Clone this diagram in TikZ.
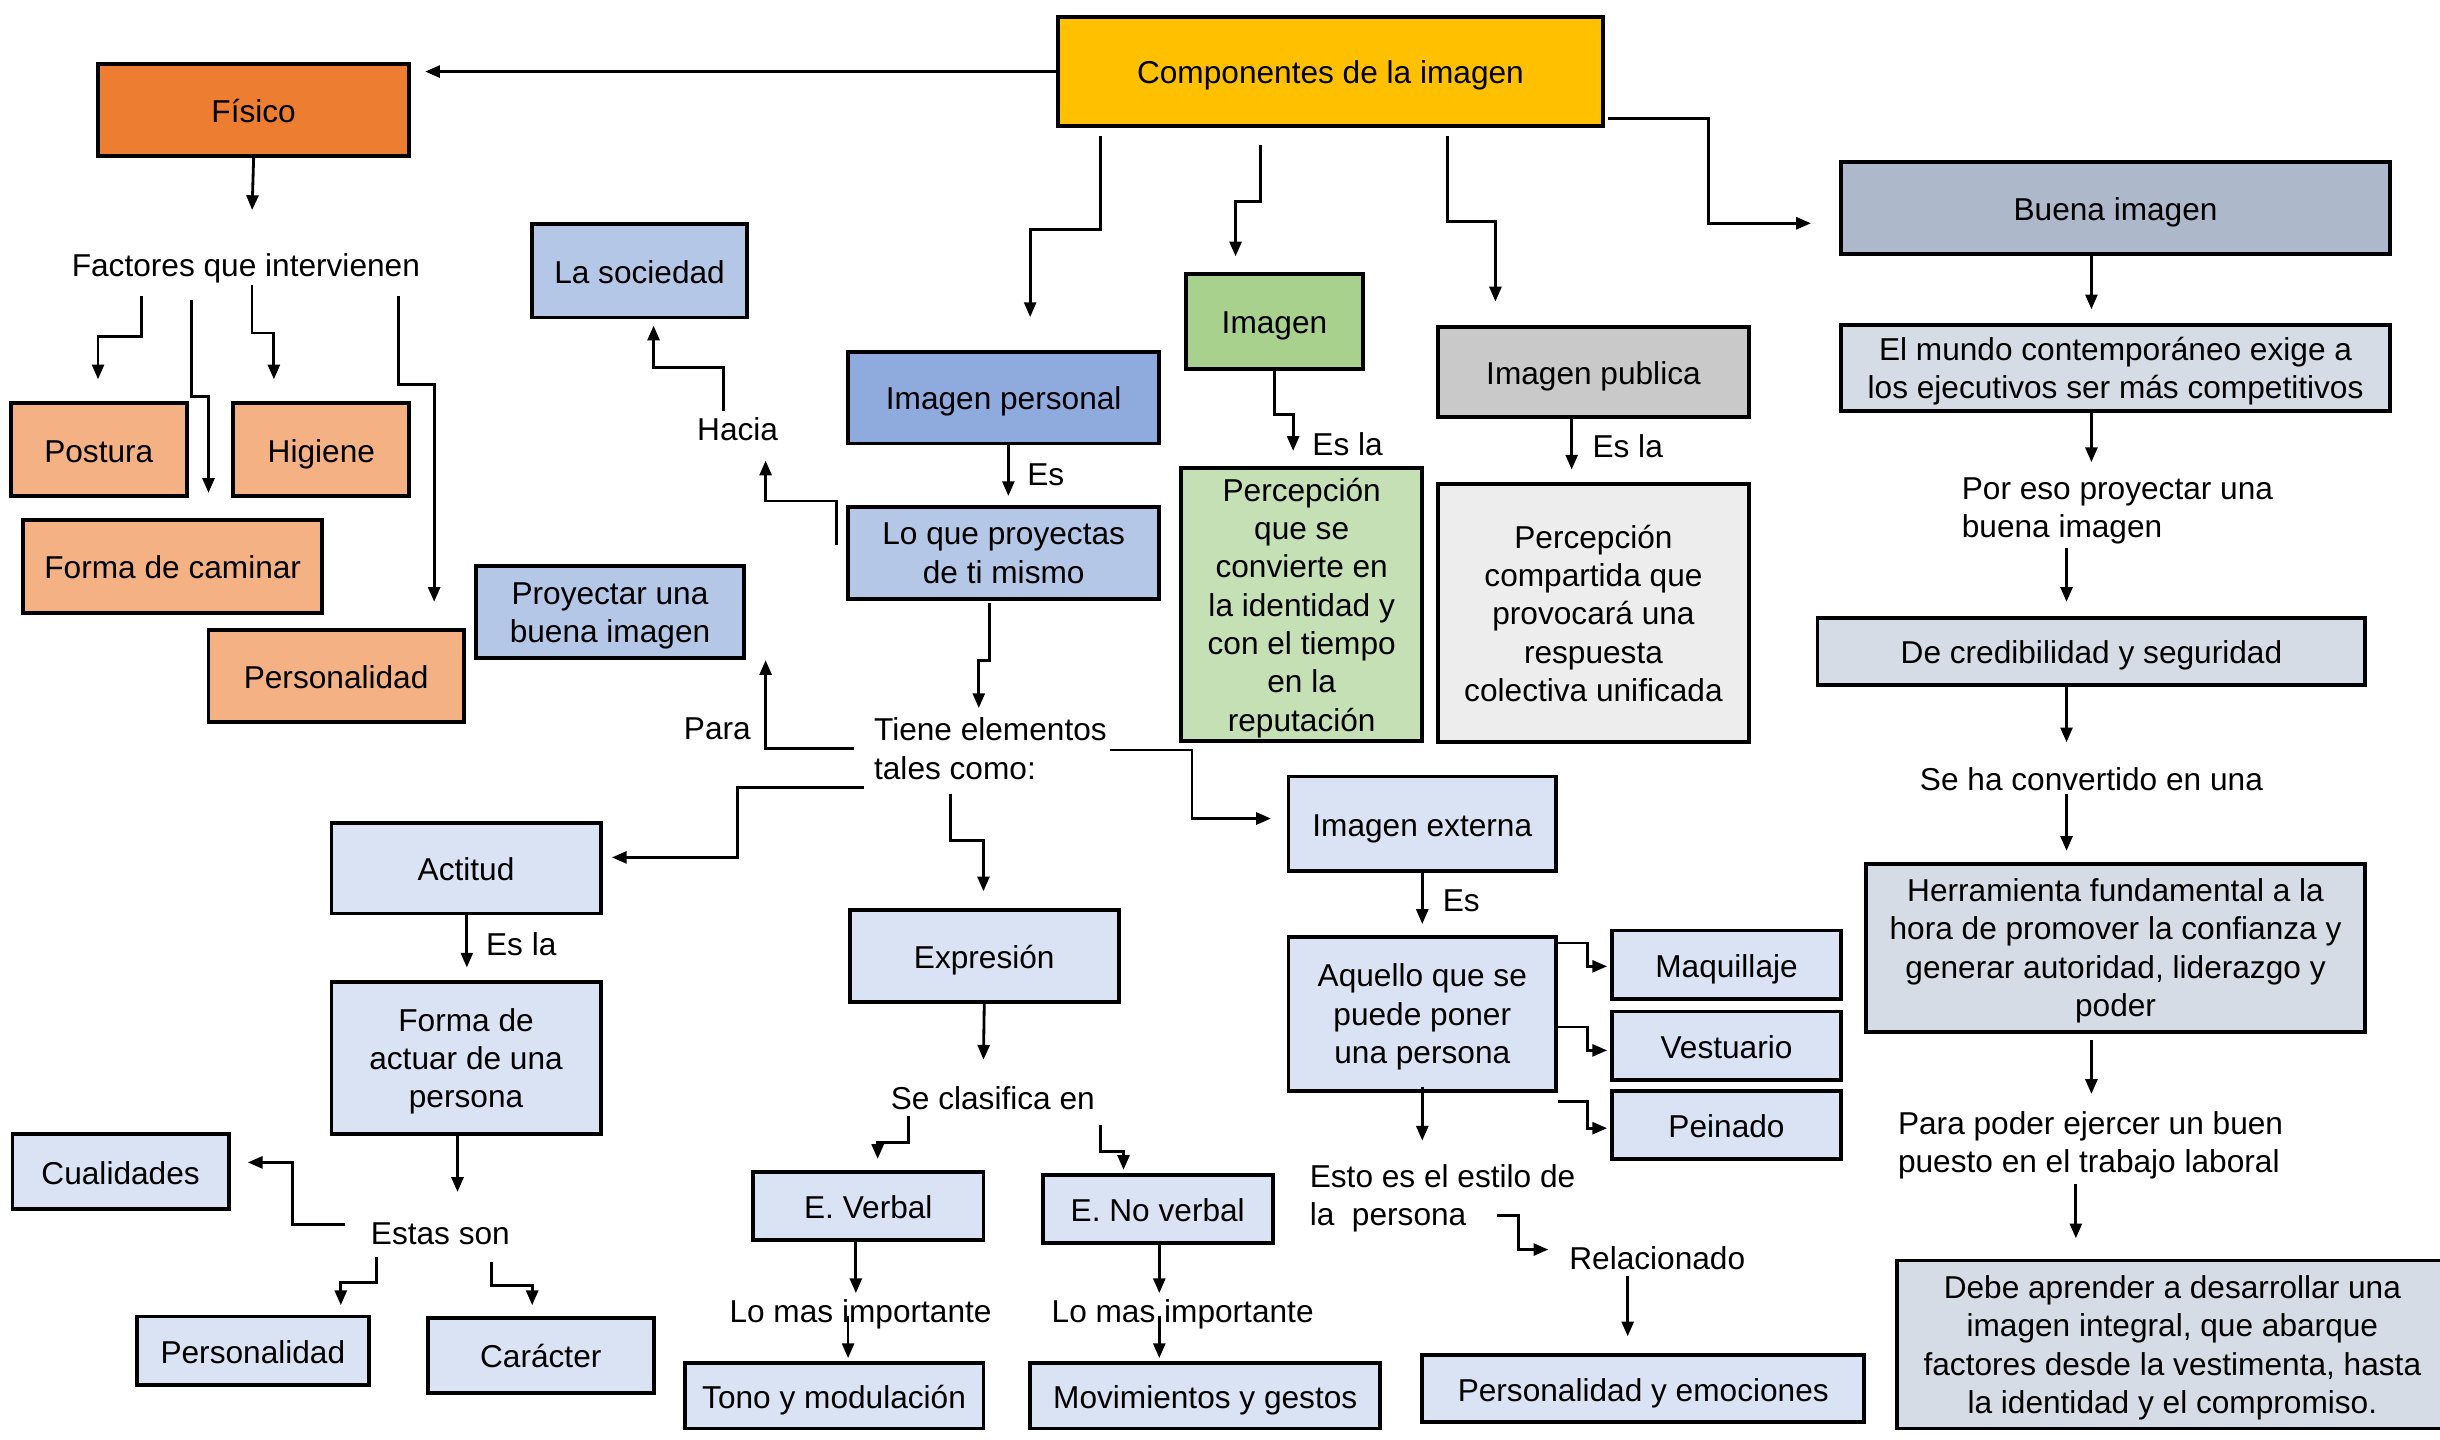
\documentclass[tikz,border=0pt]{standalone}
\usepackage{fontspec}
\setmainfont{Liberation Sans}
\usetikzlibrary{arrows.meta,calc}

\definecolor{cgold}{HTML}{FFC000}
\definecolor{corange}{HTML}{ED7D31}
\definecolor{clorange}{HTML}{F4B183}
\definecolor{cblue}{HTML}{8FAADC}
\definecolor{cmblue}{HTML}{B4C7E7}
\definecolor{clblue}{HTML}{DAE3F3}
\definecolor{cgreen}{HTML}{A9D18E}
\definecolor{clgreen}{HTML}{C5E0B4}
\definecolor{cgray}{HTML}{C9C9C9}
\definecolor{clgray}{HTML}{EDEDED}
\definecolor{cslate}{HTML}{ADB9CA}
\definecolor{clslate}{HTML}{D6DCE5}

\tikzset{
  box/.style={draw, line width=1.1pt, align=center, inner sep=2pt,
    execute at begin node={\rule[-2pt]{0pt}{11pt}}},
  wh/.style 2 args={minimum width=#1*0.15561mm, minimum height=#2*0.15561mm},
  lbl/.style={align=center, inner sep=1pt,
    execute at begin node={\rule[-2pt]{0pt}{11pt}}},
  ml/.style={text depth=-0.8pt},
  arr/.style={-{Triangle[length=4.2pt,width=3.4pt]}, line width=0.8pt},
}

\begin{document}
\begin{tikzpicture}[x=0.15561mm, y=-0.15561mm, font=\fontsize{9}{10.9}\selectfont]
        \useasboundingbox (0,0) rectangle (1568,925);

        % Nodes
        \node (comp) [box, fill=cgold, wh={350}{70}] at (855,46) {Componentes de la imagen};
        \node (fisico) [box, fill=corange, wh={200}{59}] at (163,70.5) {Físico};
        \node (factores) [lbl] at (158,170) {Factores que intervienen};
        \node (postura) [box, fill=clorange, wh={113}{60}] at (63.5,289) {Postura};
        \node (higiene) [box, fill=clorange, wh={113}{60}] at (206.5,289) {Higiene};
        \node (caminar) [box, fill=clorange, wh={192}{60}] at (111,364) {Forma de caminar};
        \node (persA) [box, fill=clorange, wh={164}{59}] at (216,434.5) {Personalidad};
        \node (sociedad) [box, fill=cmblue, wh={138}{60}] at (411,174) {La sociedad};
        \node (hacia) [lbl] at (474,275) {Hacia};
        \node (ipersonal) [box, fill=cblue, wh={200}{59}] at (645,255.5) {Imagen personal};
        \node (es1) [lbl] at (672,304) {Es};
        \node (proyectas) [box, ml, fill=cmblue, wh={200}{59}] at (645,355.5) {Lo que proyectas\\de ti mismo};
        \node (proyectar) [box, ml, fill=cmblue, wh={172}{59}] at (392,393.5) {Proyectar una\\buena imagen};
        \node (para) [lbl] at (461,467) {Para};
        \node (tiene) [lbl, ml, anchor=west, align=left] at (559,481) {Tiene elementos\\tales como:};
        \node (imagen) [box, fill=cgreen, wh={114}{61}] at (819,206.5) {Imagen};
        \node (esla1) [lbl] at (866,285) {Es la};
        \node (percep) [box, ml, fill=clgreen, wh={155}{175}] at (836.5,388.5) {Percepción\\que se\\convierte en\\la identidad y\\con el tiempo\\en la\\reputación};
        \node (ipublica) [box, fill=cgray, wh={200}{58}] at (1024,239) {Imagen publica};
        \node (esla2) [lbl] at (1046,286) {Es la};
        \node (percepc) [box, ml, fill=clgray, wh={200}{166}] at (1024,394) {Percepción\\compartida que\\provocará una\\respuesta\\colectiva unificada};
        \node (buena) [box, fill=cslate, wh={353}{59}] at (1359.5,133.5) {Buena imagen};
        \node (mundo) [box, ml, fill=clslate, wh={353}{55}] at (1359.5,236.5) {El mundo contemporáneo exige a\\los ejecutivos ser más competitivos};
        \node (poreso) [lbl, ml, anchor=west, align=left] at (1258,326) {Por eso proyectar una\\buena imagen};
        \node (credib) [box, fill=clslate, wh={352}{43}] at (1344,418.5) {De credibilidad y seguridad};
        \node (seha) [lbl] at (1344,500) {Se ha convertido en una};
        \node (herram) [box, ml, fill=clslate, wh={321}{108}] at (1359.5,609) {Herramienta fundamental a la\\hora de promover la confianza y\\generar autoridad, liderazgo y\\poder};
        \node (parapoder) [lbl, ml, anchor=west, align=left] at (1217,734) {Para poder ejercer un buen\\puesto en el trabajo laboral};
        \node (debe) [box, ml, fill=clslate, wh={354}{108}] at (1396,864) {Debe aprender a desarrollar una\\imagen integral, que abarque\\factores desde la vestimenta, hasta\\la identidad y el compromiso.};
        \node (iexterna) [box, fill=clblue, wh={172}{61}] at (914,529.5) {Imagen externa};
        \node (es2) [lbl] at (939,578) {Es};
        \node (aquello) [box, ml, fill=clblue, wh={172}{99}] at (914,651.5) {Aquello que se\\puede poner\\una persona};
        \node (maquillaje) [box, fill=clblue, wh={147}{44}] at (1109.5,620) {Maquillaje};
        \node (vestuario) [box, fill=clblue, wh={147}{44}] at (1109.5,672) {Vestuario};
        \node (peinado) [box, fill=clblue, wh={147}{44}] at (1109.5,723) {Peinado};
        \node (esto) [lbl, ml, anchor=west, align=left] at (839,768) {Esto es el estilo de\\la\ \ persona};
        \node (relacionado) [lbl] at (1065,808) {Relacionado};
        \node (emociones) [box, fill=clblue, wh={284}{43}] at (1056,892.5) {Personalidad y emociones};
        \node (actitud) [box, fill=clblue, wh={173}{58}] at (299.5,558) {Actitud};
        \node (esla3) [lbl] at (335,606) {Es la};
        \node (actuar) [box, ml, fill=clblue, wh={173}{98}] at (299.5,680) {Forma de\\actuar de una\\persona};
        \node (cualidades) [box, fill=clblue, wh={139}{48}] at (77.5,753) {Cualidades};
        \node (estas) [lbl] at (283,792) {Estas son};
        \node (persB) [box, fill=clblue, wh={149}{44}] at (162.5,868) {Personalidad};
        \node (caracter) [box, fill=clblue, wh={145}{48}] at (347.5,871) {Carácter};
        \node (expresion) [box, fill=clblue, wh={173}{59}] at (632.5,614.5) {Expresión};
        \node (clasifica) [lbl] at (638,705) {Se clasifica en};
        \node (everbal) [box, fill=clblue, wh={148}{44}] at (558,775) {E. Verbal};
        \node (enoverbal) [box, fill=clblue, wh={148}{44}] at (744,777) {E. No verbal};
        \node (lomas1) [lbl] at (553,842) {Lo mas importante};
        \node (lomas2) [lbl] at (760,842) {Lo mas importante};
        \node (tono) [box, fill=clblue, wh={192}{42}] at (536,897) {Tono y modulación};
        \node (movimientos) [box, fill=clblue, wh={225}{42}] at (774.5,897) {Movimientos y gestos};

        % Edges
        \draw[arr, shorten >=1.4mm] (comp.west) -- (comp.west -| fisico.east);
        \draw[arr] ($(comp.south)+(-148,5)$) -- ++(0,60) -| ($(ipersonal.north)+(17,-21)$);
        \draw[arr] ($(comp.south)+(-45,11)$) -- ++(0,36) -| ($(imagen.north)+(-25,-10)$);
        \draw[arr] ($(comp.south)+(75,5)$) -- ++(0,55) -| ($(ipublica.north)+(-63,-15)$);
        \draw[arr] ($(comp.east)+(2,30)$) -| ($(buena.west)+(-84,10)$) -- ($(buena.west)+(-18,10)$);

        % Fisico
        \draw[arr] (fisico.south) -- ($(factores)+(4,-35)$);
        \draw[arr] ($(factores)+(-67,20)$) -- ++(0,26) -| ($(postura.north)+(-0.5,-14)$);
        \draw[arr] ($(factores)+(-35,23)$) -- ++(0,62) -| ($(caminar.north)+(23,-16)$);
        \draw[arr] ($(factores)+(4,13)$) -- ++(0,31) -| ($(higiene.north)+(-30.5,-14)$);
        \draw[arr] ($(factores)+(98,20)$) -- ++(0,57) -| ($(persA.north)+(63,-17)$);

        % Imagen personal
        \draw[arr] ($(ipersonal.south)+(3,0)$) -- ($(proyectas.north)+(3,-6)$);
        \draw[arr] ($(proyectas.west)+(-6,-5.5)$) -- ++(0,-28) -| ($(hacia)+(18,21)$);
        \draw[arr] ($(hacia)+(-9,-11)$) -- ++(0,-28) -| ($(sociedad.south)+(9,4)$);
        \draw[arr] ($(proyectas.south)+(-9,1)$) -- ++(0,37) -| ($(tiene.west)+(70,-26)$);
        \draw[arr] ($(tiene.west)+(-10,0)$) -| ($(proyectar.south)+(100,0)$);
        \draw[arr] ($(tiene.west)+(154,1)$) -- ++(53,0) |- ($(iexterna.west)+(-10,-3.5)$);
        \draw[arr] ($(tiene.west)+(-4,25)$) -- ++(-81,0) |- ($(actitud.east)+(6,-7)$);
        \draw[arr] ($(tiene.west)+(52,29)$) -- ++(0,30) -| ($(expresion.north)+(-0.5,-11)$);

        % Imagen y publica
        \draw[arr] (imagen.south) -- ++(0,28) -| ($(percep.north)+(-5.5,-10)$);
        \draw[arr] ($(ipublica.south)+(-14,0)$) -- ($(percepc.north)+(-14,-8)$);

        % Buena imagen
        \draw[arr] ($(buena.south)+(-15.5,0)$) -- ($(mundo.north)+(-15.5,-9)$);
        \draw[arr] ($(mundo.south)+(-15.5,0)$) -- ($(poreso.west)+(86,-29)$);
        \draw[arr] ($(poreso.west)+(70,26)$) -- ($(credib.north)+(-16,-9)$);
        \draw[arr] ($(credib.south)+(-16,0)$) -- ($(seha)+(-16,-23)$);
        \draw[arr] ($(seha)+(-16,10)$) -- ($(herram.north)+(-31.5,-7)$);
        \draw[arr] ($(herram.south)+(-15.5,4)$) -- ($(parapoder.west)+(127,-31)$);
        \draw[arr] ($(parapoder.west)+(117,27)$) -- ($(debe.north)+(-62,-13)$);

        % Imagen externa
        \draw[arr] (iexterna.south) -- ($(aquello.north)+(0,-7)$);
        \draw[arr] ($(aquello.east)+(0,-45.5)$) -- ++(19,0) |- ($(maquillaje.west)+(-2,1)$);
        \draw[arr] ($(aquello.east)+(0,8.5)$) -- ++(19,0) |- ($(vestuario.west)+(-2,3)$);
        \draw[arr] ($(aquello.east)+(0,56.5)$) -- ++(19,0) |- ($(peinado.west)+(-2,2)$);
        \draw[arr] ($(aquello.south)+(0,-4)$) -- ($(esto.west)+(75,-35)$);
        \draw[arr] ($(esto.west)+(123,13)$) -- ++(14,0) |- ($(relacionado)+(-70,-5)$);
        \draw[arr] ($(relacionado)+(-19,12)$) -- ($(emociones.north)+(-10,-11)$);

        % Actitud
        \draw[arr] ($(actitud.south)+(0.5,0)$) -- ($(actuar.north)+(0.5,-8)$);
        \draw[arr] ($(actuar.south)+(-5.5,0)$) -- ($(estas)+(11,-26)$);
        \draw[arr] ($(estas)+(-61,-5)$) -- ++(-34,0) |- ($(cualidades.east)+(11,-6)$);
        \draw[arr] ($(estas)+(-41,16)$) -- ++(0,16) -| ($(persB.north)+(56.5,-6)$);
        \draw[arr] ($(estas)+(33,19)$) -- ++(0,15) -| ($(caracter.north)+(-5.5,-7)$);

        % Expresion
        \draw[arr] (expresion.south) -- ($(clasifica)+(-6,-24)$);
        \draw[arr] ($(clasifica)+(-54,12)$) -- ++(0,17) -| ($(everbal.north)+(6,-7)$);
        \draw[arr] ($(clasifica)+(69,18)$) -- ++(0,17) -| ($(enoverbal.north)+(-22,-2)$);
        \draw[arr] ($(everbal.south)+(-8,0)$) -- ($(lomas1)+(-3,-11)$);
        \draw[arr] ($(lomas1)+(-8,4)$) -- ($(tono.north)+(9,-2)$);
        \draw[arr] ($(enoverbal.south)+(1,0)$) -- ($(lomas2)+(-15,-11)$);
        \draw[arr] ($(lomas2)+(-15,4)$) -- ($(movimientos.north)+(-29.5,-2)$);
    \end{tikzpicture}
\end{document}
